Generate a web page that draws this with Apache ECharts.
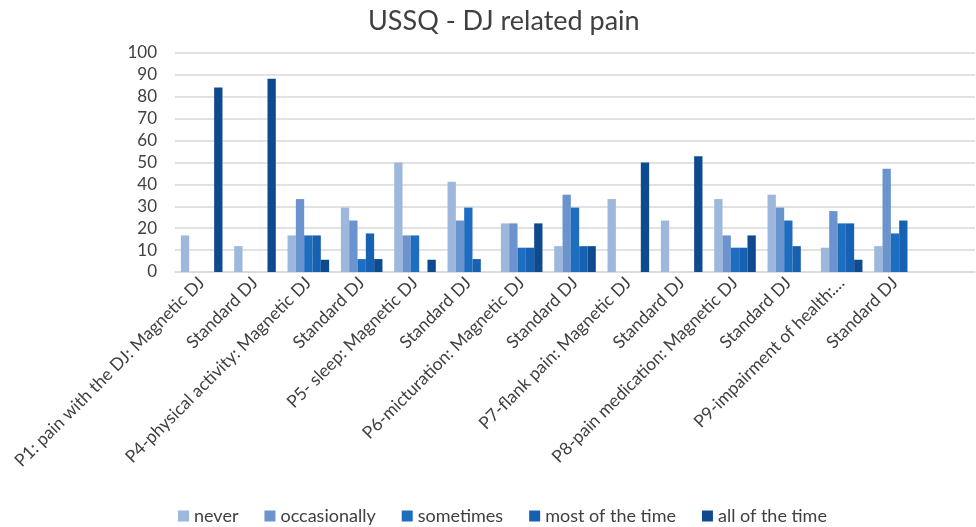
<!DOCTYPE html>
<html><head><meta charset="utf-8">
<script src="https://cdn.jsdelivr.net/npm/echarts@6/dist/echarts.min.js"></script>
<style>html,body{margin:0;padding:0;background:#fff}#c{width:976px;height:527px}</style>
</head><body><div id="c"></div>
<script>
const categories = [
  "P1: pain with the DJ: Magnetic DJ", "Standard DJ",
  "P4-physical activity: Magnetic DJ", "Standard DJ",
  "P5- sleep: Magnetic DJ", "Standard DJ",
  "P6-micturation: Magnetic DJ", "Standard DJ",
  "P7-flank pain: Magnetic DJ", "Standard DJ",
  "P8-pain medication: Magnetic DJ", "Standard DJ",
  "P9-impairment of health:…", "Standard DJ", ""
];
const seriesNames = ["never", "occasionally", "sometimes", "most of the time", "all of the time"];
const never        = [16.7, 11.8, 16.7, 29.4, 50.0, 41.2, 22.2, 11.8, 33.3, 23.5, 33.3, 35.3, 11.1, 11.8, null];
const occasionally = [0, 0, 33.3, 23.5, 16.7, 23.5, 22.2, 35.3, 0, 0, 16.7, 29.4, 27.8, 47.1, null];
const sometimes    = [0, 0, 16.7, 5.9, 16.7, 29.4, 11.1, 29.4, 0, 0, 11.1, 23.5, 22.2, 17.6, null];
const mostOfTime   = [0, 0, 16.7, 17.6, 0, 5.9, 11.1, 11.8, 0, 0, 11.1, 11.8, 22.2, 23.5, null];
const allOfTime    = [84.2, 88.2, 5.6, 5.9, 5.6, 0, 22.2, 11.8, 50.0, 52.9, 16.7, 0, 5.6, 0, null];
const yTicks = [0, 100, 10];

const colors = ["#9DB7DD", "#6B93CD", "#1D6DC0", "#1761B3", "#0D4A8E"];
const values = [never, occasionally, sometimes, mostOfTime, allOfTime];
const font = "Lato, 'Open Sans', sans-serif";

const chart = echarts.init(document.getElementById('c'));
chart.setOption({
  animation: false,
  color: colors,
  title: {
    text: "USSQ - DJ related pain", left: 363, top: 3,
    textStyle: {fontFamily: font, fontWeight: 'normal', fontSize: 27, color: '#404040'}
  },
  legend: {
    top: 502, left: 173, itemWidth: 11, itemHeight: 11, itemGap: 26,
    textStyle: {fontFamily: font, fontSize: 18, color: '#404040'},
    icon: 'rect', data: seriesNames
  },
  grid: {left: 175, right: 1, top: 53, bottom: 255, containLabel: false},
  xAxis: {
    type: 'category', data: categories,
    axisTick: {show: false},
    axisLine: {lineStyle: {color: '#d9d9d9', width: 1.5}},
    axisLabel: {rotate: 45, interval: 0, fontFamily: font, fontSize: 17.5, color: '#404040', margin: 8}
  },
  yAxis: {
    type: 'value', min: yTicks[0], max: yTicks[1], interval: yTicks[2],
    axisLine: {show: false}, axisTick: {show: false},
    splitLine: {lineStyle: {color: '#d9d9d9', width: 1.5}},
    axisLabel: {fontFamily: font, fontSize: 17, color: '#404040', margin: 18}
  },
  series: seriesNames.map((n, i) => ({
    name: n, type: 'bar', data: values[i], barGap: '0%', barCategoryGap: '22%',
    itemStyle: {color: colors[i]}
  }))
});
</script></body></html>
